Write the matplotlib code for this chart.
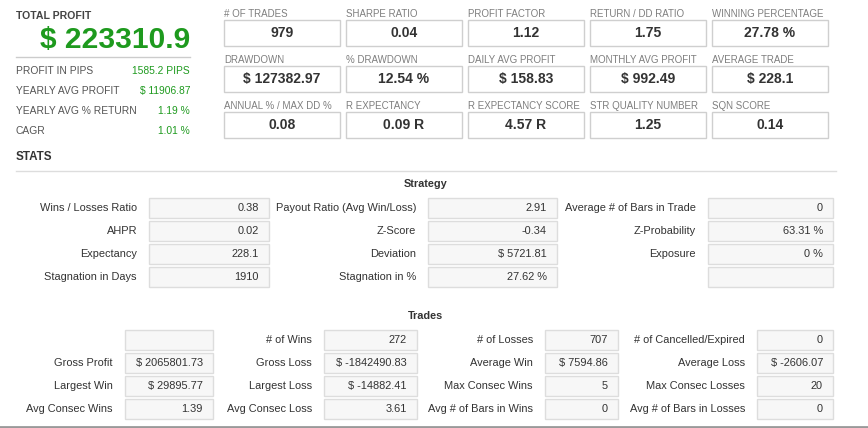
import matplotlib.pyplot as plt
from matplotlib.patches import Rectangle

plt.rcParams['font.family'] = ['Liberation Sans', 'DejaVu Sans']

# 左上角汇总
total_profit = "$ 223310.9"
left_labels = ["PROFIT IN PIPS", "YEARLY AVG PROFIT", "YEARLY AVG % RETURN", "CAGR"]
left_values = ["1585.2 PIPS", "$ 11906.87", "1.19 %", "1.01 %"]

# 顶部指标卡片 (3 行 x 5 列)
card_labels = [
    ["# OF TRADES", "SHARPE RATIO", "PROFIT FACTOR", "RETURN / DD RATIO", "WINNING PERCENTAGE"],
    ["DRAWDOWN", "% DRAWDOWN", "DAILY AVG PROFIT", "MONTHLY AVG PROFIT", "AVERAGE TRADE"],
    ["ANNUAL % / MAX DD %", "R EXPECTANCY", "R EXPECTANCY SCORE", "STR QUALITY NUMBER", "SQN SCORE"],
]
card_values = [
    ["979", "0.04", "1.12", "1.75", "27.78 %"],
    ["$ 127382.97", "12.54 %", "$ 158.83", "$ 992.49", "$ 228.1"],
    ["0.08", "0.09 R", "4.57 R", "1.25", "0.14"],
]

# Strategy 表格 (按列)
strategy_labels = [
    ["Wins / Losses Ratio", "AHPR", "Expectancy", "Stagnation in Days"],
    ["Payout Ratio (Avg Win/Loss)", "Z-Score", "Deviation", "Stagnation in %"],
    ["Average # of Bars in Trade", "Z-Probability", "Exposure", ""],
]
strategy_values = [
    ["0.38", "0.02", "228.1", "1910"],
    ["2.91", "-0.34", "$ 5721.81", "27.62 %"],
    ["0", "63.31 %", "0 %", ""],
]

# Trades 表格 (按列)
trades_labels = [
    ["", "Gross Profit", "Largest Win", "Avg Consec Wins"],
    ["# of Wins", "Gross Loss", "Largest Loss", "Avg Consec Loss"],
    ["# of Losses", "Average Win", "Max Consec Wins", "Avg # of Bars in Wins"],
    ["# of Cancelled/Expired", "Average Loss", "Max Consec Losses", "Avg # of Bars in Losses"],
]
trades_values = [
    ["", "$ 2065801.73", "$ 29895.77", "1.39"],
    ["272", "$ -1842490.83", "$ -14882.41", "3.61"],
    ["707", "$ 7594.86", "5", "0"],
    ["0", "$ -2606.07", "20", "0"],
]

GREEN = "#1e9a1e"
DARK = "#333333"
GRAY = "#7f7f7f"

fig = plt.figure(figsize=(8.68, 4.28), dpi=100)
ax = fig.add_axes([0, 0, 1, 1])
ax.set_xlim(0, 868)
ax.set_ylim(428, 0)
ax.axis("off")

# 总利润
ax.text(16, 16, "TOTAL PROFIT", fontsize=7.6, fontweight="bold", color="#444444", va="center")
ax.text(190, 40, total_profit, fontsize=21.6, fontweight="bold", color=GREEN, va="center", ha="right")
ax.plot([16, 190], [57, 57], color="#cccccc", lw=1)
for i, (lab, val) in enumerate(zip(left_labels, left_values)):
    y = 71 + i * 20
    ax.text(16, y, lab, fontsize=7.4, color="#555555", va="center")
    ax.text(190, y, val, fontsize=7.4, color=GREEN, va="center", ha="right")
ax.text(16, 157, "STATS", fontsize=8.4, fontweight="bold", color=DARK, va="center")

# 顶部卡片
for r in range(3):
    for c in range(5):
        x0 = 224 + c * 122
        top = 20 + r * 46
        ax.text(x0, top - 6, card_labels[r][c], fontsize=7.0, color=GRAY, va="center")
        ax.add_patch(Rectangle((x0, top), 116, 26, facecolor="white", edgecolor="#cfcfcf", lw=1))
        ax.text(x0 + 58, top + 13, card_values[r][c], fontsize=10, fontweight="bold",
                color=DARK, ha="center", va="center")

ax.plot([16, 836], [170.5, 170.5], color="#dddddd", lw=1)


def draw_table(title, title_y, row_y, cols, labels, values):
    ax.text(426, title_y, title, fontsize=7.8, fontweight="bold", color=DARK, ha="center", va="center")
    for (lab_x, bx0, bx1), col_lab, col_val in zip(cols, labels, values):
        for y, lab, val in zip(row_y, col_lab, col_val):
            ax.add_patch(Rectangle((bx0, y - 10), bx1 - bx0, 20, facecolor="#f7f7f7",
                                   edgecolor="#dddddd", lw=1))
            ax.text(lab_x, y, lab, fontsize=7.9, color=DARK, ha="right", va="center")
            ax.text(bx1 - 10, y, val, fontsize=7.9, color=DARK, ha="right", va="center")


draw_table("Strategy", 184, [208, 231, 254, 277],
           [(137, 149, 269), (416, 428, 557), (696, 708, 833)],
           strategy_labels, strategy_values)
draw_table("Trades", 316, [340, 363, 386, 409],
           [(113, 125, 213), (312, 324, 417), (533, 545, 618), (745, 757, 833)],
           trades_labels, trades_values)

ax.plot([0, 868], [427, 427], color="#999999", lw=2)

fig.savefig("out.png", dpi=100)
